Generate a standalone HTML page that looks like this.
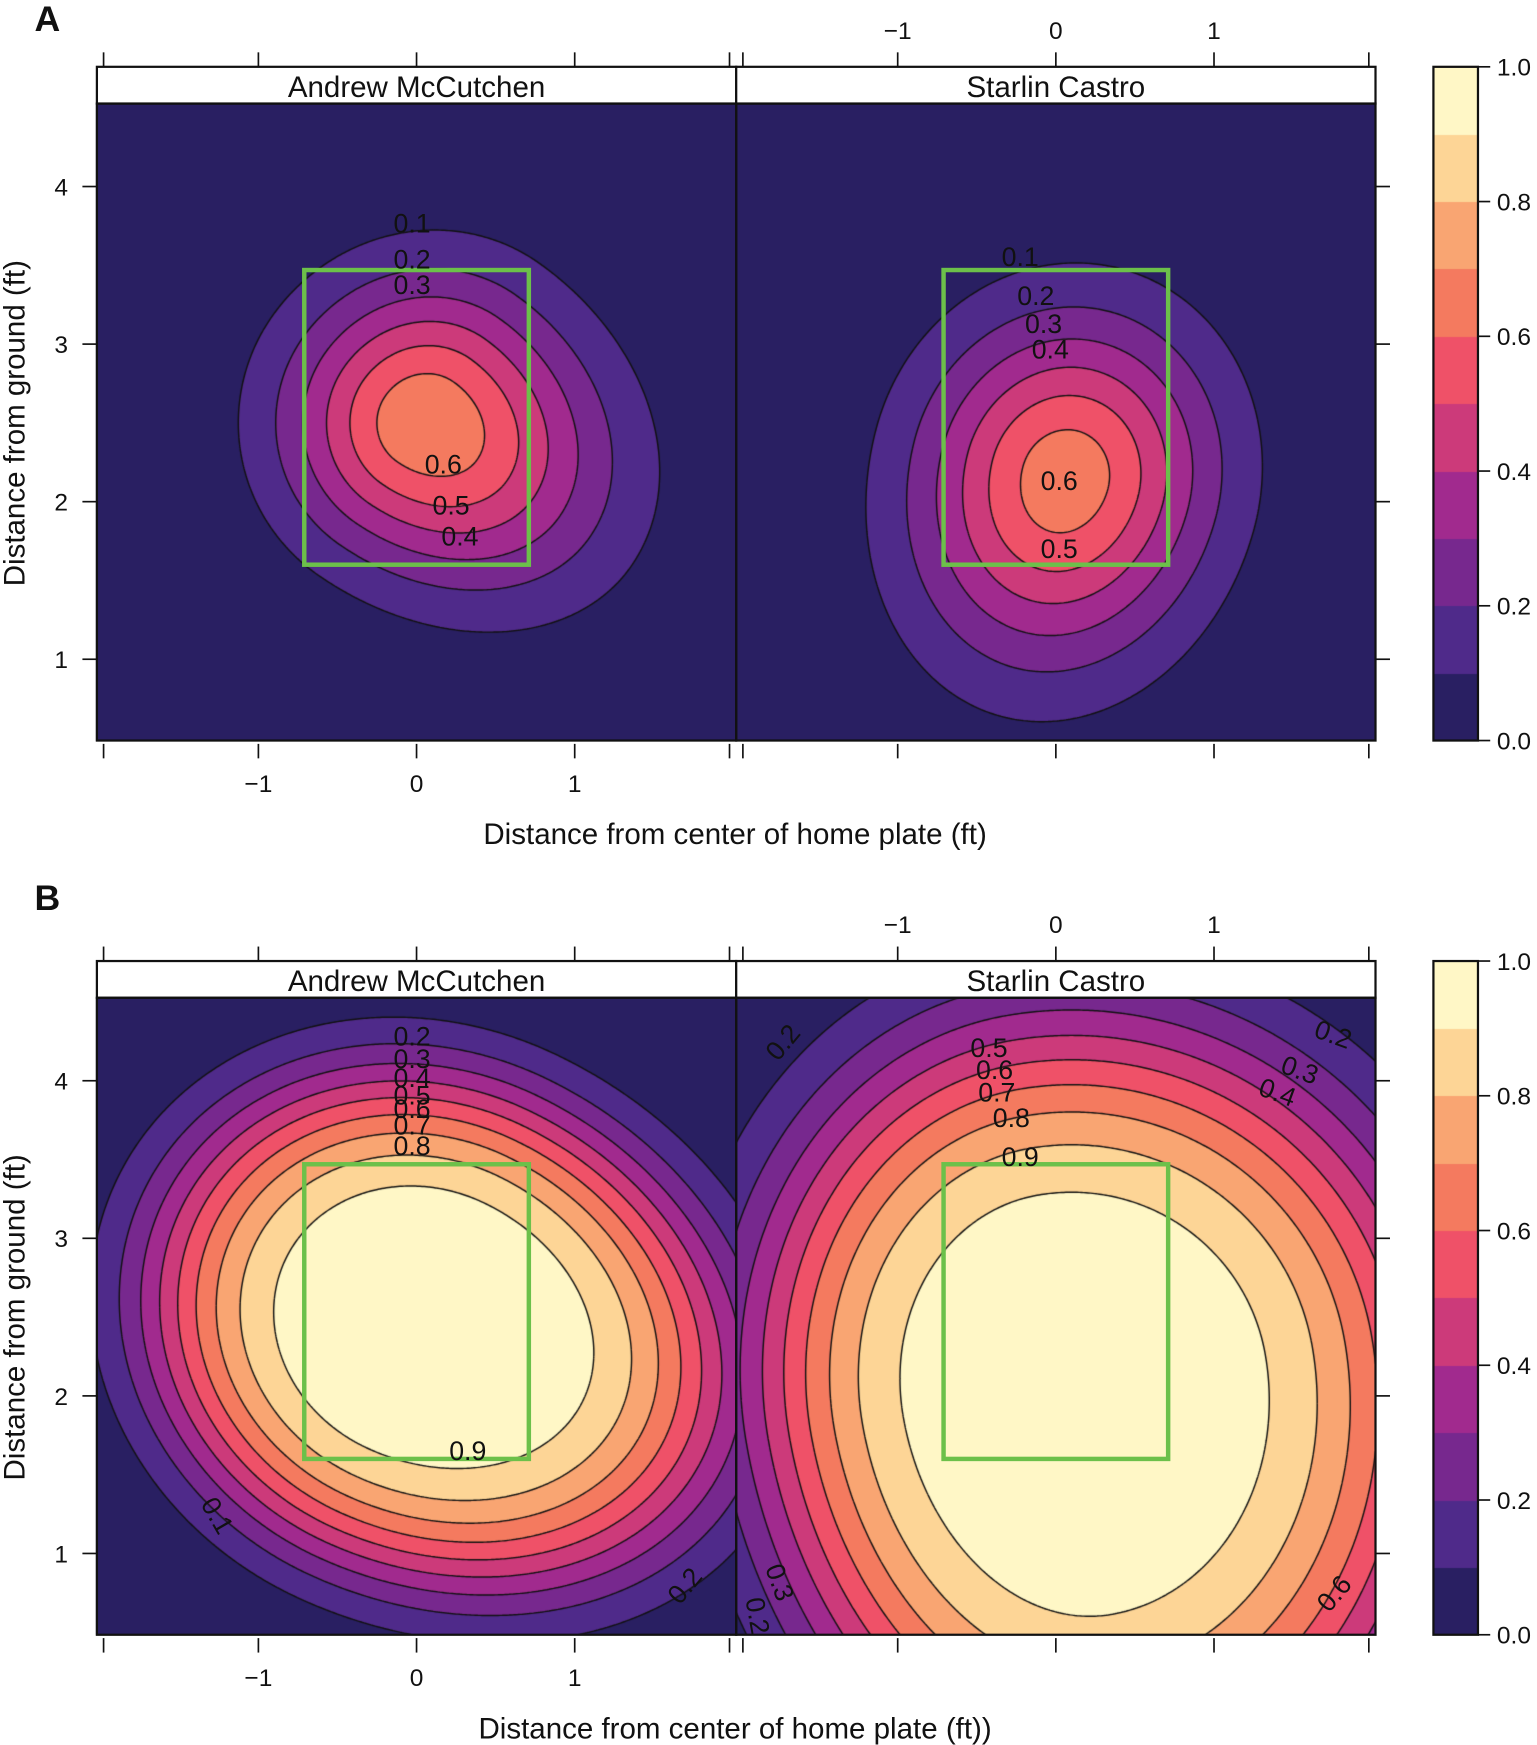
<!DOCTYPE html>
<html><head><meta charset="utf-8"><style>
html,body{margin:0;padding:0;background:#fff;}
#wrap{position:relative;width:1537px;height:1745px;overflow:hidden;}
canvas,svg{position:absolute;left:0;top:0;}
text{font-family:"Liberation Sans",Arial,sans-serif;fill:#111;}
</style></head><body>
<div id="wrap">
<canvas id="cv" width="1537" height="1745"></canvas>
<svg id="sv" width="1537" height="1745" viewBox="0 0 1380 1567" preserveAspectRatio="none"></svg>
</div>
<script>
// ---- data ----
const panelNames = ["A-McCutchen","A-Castro","B-McCutchen","B-Castro"];
const centerX = [0.05, 0.06, 0.05, 0.10];
const centerY = [2.50, 2.15, 2.45, 2.05];
const amplitude = [0.68, 0.66, 0.99, 0.98];
const spreadLeft = [0.85, 0.90, 1.75, 2.00];
const spreadRight = [1.15, 0.90, 2.00, 2.30];
const spreadDown = [0.85, 1.14, 1.55, 2.70];
const spreadUp = [0.90, 1.00, 1.55, 2.30];
const tiltDeg = [-35, -15, -25, 10];
const shapePower = [2, 2, 4, 4];
const levels = [0.1,0.2,0.3,0.4,0.5,0.6,0.7,0.8,0.9];
const binColors = ["#291f62","#4f2a8a","#77288e","#a12a8e","#cc3a7a","#ef5168","#f47a5f","#f9a572","#fdd596","#fff7c6"];
const xTicks = [-2,-1,0,1,2];
const xTickLabels = ["-1","0","1"];
const yTicks = [1,2,3,4];
const cbTicks = [0,0.2,0.4,0.6,0.8,1.0];
const zoneX = [-0.71, 0.71];
const zoneY = [1.6, 3.47];
const stripTitles = ["Andrew McCutchen","Starlin Castro"];

// ---- geometry (display coords 1380x1567) ----
const SX = 1537/1380, SY = 1745/1567;
const PXFT = 142, PYFT = 141.5;
const panelLeft = [87,661,87,661], panelRight=[661,1235,661,1235];
const origin0 = [374,948,374,948];
const yOff = [0,0,803,803];
const plotTop = 93, plotBot = 665;
function xs(i,x){return origin0[i]+x*PXFT;}
function ys(i,y){return 592-(y-1)*PYFT+yOff[i];}
function xinv(i,px){return (px-origin0[i])/PXFT;}
function yinv(i,py){return 1+(592+yOff[i]-py)/PYFT;}
function f(i,x,y){
  const a=tiltDeg[i]*Math.PI/180, dx=x-centerX[i], dy=y-centerY[i];
  const u=dx*Math.cos(a)+dy*Math.sin(a), v=-dx*Math.sin(a)+dy*Math.cos(a);
  const su=u<0?spreadLeft[i]:spreadRight[i], sv=v<0?spreadDown[i]:spreadUp[i];
  const r=Math.sqrt((u/su)**2+(v/sv)**2);
  return amplitude[i]*Math.exp(-Math.pow(r,shapePower[i]));
}
function hex(c){return [parseInt(c.slice(1,3),16),parseInt(c.slice(3,5),16),parseInt(c.slice(5,7),16)];}
const rgb=binColors.map(hex);

// ---- fills ----
const cv=document.getElementById('cv'), ctx=cv.getContext('2d');
const img=ctx.createImageData(1537,1745);
for(let i=0;i<4;i++){
  const x0=Math.floor(panelLeft[i]*SX), x1=Math.ceil(panelRight[i]*SX);
  const y0=Math.floor((plotTop+yOff[i])*SY), y1=Math.ceil((plotBot+yOff[i])*SY);
  for(let py=y0;py<y1;py++)for(let px=x0;px<x1;px++){
    const v=f(i,xinv(i,(px+0.5)/SX),yinv(i,(py+0.5)/SY));
    const b=Math.max(0,Math.min(9,Math.floor(v*10)));
    const k=(py*1537+px)*4;img.data[k]=rgb[b][0];img.data[k+1]=rgb[b][1];img.data[k+2]=rgb[b][2];img.data[k+3]=255;
  }
}
for(let c=0;c<2;c++){
  const top=60+c*803;
  for(let b=0;b<10;b++){
    const yA=Math.floor((top+605-(b+1)*60.5)*SY), yB=Math.ceil((top+605-b*60.5)*SY);
    for(let py=yA;py<yB;py++)for(let px=Math.floor(1287*SX);px<Math.ceil(1327*SX);px++){
      const k=(py*1537+px)*4;img.data[k]=rgb[b][0];img.data[k+1]=rgb[b][1];img.data[k+2]=rgb[b][2];img.data[k+3]=255;}
  }
}
ctx.putImageData(img,0,0);
// ---- contour lines (marching squares) ----
ctx.save();ctx.scale(SX,SY);ctx.strokeStyle="#111";ctx.lineWidth=1.3;
for(let i=0;i<4;i++){
  ctx.save();ctx.beginPath();ctx.rect(panelLeft[i],plotTop+yOff[i],panelRight[i]-panelLeft[i],plotBot-plotTop);ctx.clip();
  const st=2, nx=Math.ceil((panelRight[i]-panelLeft[i])/st)+1, ny=Math.ceil((plotBot-plotTop)/st)+1;
  const g=[];
  for(let r=0;r<ny;r++){g.push([]);for(let c=0;c<nx;c++){g[r].push(f(i,xinv(i,panelLeft[i]+c*st),yinv(i,plotTop+yOff[i]+r*st)));}}
  ctx.beginPath();
  for(const L of levels){
    for(let r=0;r<ny-1;r++)for(let c=0;c<nx-1;c++){
      const X=panelLeft[i]+c*st, Y=plotTop+yOff[i]+r*st;
      const v=[g[r][c],g[r][c+1],g[r+1][c+1],g[r+1][c]];
      const p=[[X,Y],[X+st,Y],[X+st,Y+st],[X,Y+st]];
      const pts=[];
      for(let e=0;e<4;e++){const a=v[e],b=v[(e+1)%4];
        if((a<L)!==(b<L)){const t=(L-a)/(b-a);pts.push([p[e][0]+t*(p[(e+1)%4][0]-p[e][0]),p[e][1]+t*(p[(e+1)%4][1]-p[e][1])]);}}
      for(let k=0;k+1<pts.length;k+=2){ctx.moveTo(pts[k][0],pts[k][1]);ctx.lineTo(pts[k+1][0],pts[k+1][1]);}
    }
  }
  ctx.stroke();ctx.restore();
}
ctx.restore();

// ---- SVG overlay ----
const NS="http://www.w3.org/2000/svg", sv=document.getElementById('sv');
function el(tag,attrs,txt){const e=document.createElementNS(NS,tag);for(const k in attrs)e.setAttribute(k,attrs[k]);if(txt!==undefined)e.textContent=txt;sv.appendChild(e);return e;}
for(let s=0;s<2;s++){
  const o=s*803;
  let t=el('text',{x:31,y:(s?817:28),'font-size':32,'font-weight':'bold'},s?"B":"A");
  
  
  for(let j=0;j<2;j++){
    const i=s*2+j, L=panelLeft[i], R=panelRight[i];
    let st=el('rect',{x:L,y:60+o,width:R-L,height:33,fill:'#fff',stroke:'#111','stroke-width':2});
    
    
    t=el('text',{x:(L+R)/2,y:87+o,'font-size':26.5,'text-anchor':'middle'},stripTitles[j]);
    
    
    let fr=el('rect',{x:L,y:plotTop+o,width:R-L,height:plotBot-plotTop,fill:'none',stroke:'#111','stroke-width':2});
    
    
    let z=el('rect',{x:xs(i,zoneX[0]),y:ys(i,zoneY[1]),width:xs(i,zoneX[1])-xs(i,zoneX[0]),height:ys(i,zoneY[0])-ys(i,zoneY[1]),fill:'none',stroke:'#6cc04a','stroke-width':4});
    
    
    xTicks.forEach(v=>{
      const x=xs(i,v)+(v===-2?3:v===2?-3:0);
      let tk=el('line',{x1:x,x2:x,y1:47+o,y2:60+o,stroke:'#111','stroke-width':1.5});
      
      
      tk=el('line',{x1:x,x2:x,y1:668+o,y2:681+o,stroke:'#111','stroke-width':1.5});
      
      
    });
    xTickLabels.forEach((lb,k)=>{
      const v=[-1,0,1][k];
      if(j===0){t=el('text',{x:xs(i,v),y:711+o,'font-size':22,'text-anchor':'middle'},lb.replace('-','\u2212'));
        
        }
      else{t=el('text',{x:xs(i,v),y:35+o,'font-size':22,'text-anchor':'middle'},lb.replace('-','\u2212'));
        
        }
    });
  }
  yTicks.forEach(v=>{
    const y=ys(s*2,v);
    let tk=el('line',{x1:74,x2:87,y1:y,y2:y,stroke:'#111','stroke-width':1.5});
    
    
    tk=el('line',{x1:1235,x2:1248,y1:y,y2:y,stroke:'#111','stroke-width':1.5});
    
    
    t=el('text',{x:55,y:y+8,'font-size':22,'text-anchor':'middle'},String(v));
    
    
  });
  t=el('text',{x:0,y:0,'font-size':26.5,'text-anchor':'middle',transform:`translate(22,${380+o}) rotate(-90)`},"Distance from ground (ft)");
  
  
  t=el('text',{x:660,y:758+o,'font-size':26.5,'text-anchor':'middle'},s?"Distance from center of home plate (ft))":"Distance from center of home plate (ft)");
  
  
  let cb=el('rect',{x:1287,y:60+o,width:40,height:605,fill:'none',stroke:'#111','stroke-width':2});
  
  
  cbTicks.forEach(v=>{
    const y=665+o-v*605;
    let tk=el('line',{x1:1327,x2:1338,y1:y,y2:y,stroke:'#111','stroke-width':1.5});
    
    
    t=el('text',{x:1344,y:y+8,'font-size':22},v.toFixed(1));
    
    
  });
}
// contour labels
const contourLabelText=["0.1","0.2","0.3","0.6","0.5","0.4","0.1","0.2","0.3","0.4","0.6","0.5",
 "0.2","0.3","0.4","0.5","0.6","0.7","0.8","0.9","0.1","0.2",
 "0.5","0.6","0.7","0.8","0.9","0.2","0.2","0.3","0.4","0.6","0.3","0.2"];
const contourLabelPos=[[370,209],[370,241],[370,264],[398,425],[405,462],[413,490],[916,239],[930,274],[937,299],[943,322],[951,440],[951,501],
 [370,939],[370,959],[370,976],[370,992],[370,1004],[370,1019],[370,1037],[420,1311],[195,1369],[615,1432],
 [888,949],[893,969],[895,989],[908,1012],[916,1047],[703,944],[1197,937],[1167,969],[1147,989],[1198,1439],[700,1429],[680,1459]];
const contourLabelRot=[0,0,0,0,0,0,0,0,0,0,0,0, 0,0,0,0,0,0,0,0,60,-50, 0,0,0,0,0,-50,20,20,20,-50,70,80];
contourLabelText.forEach((s,k)=>{
  const [x,y]=contourLabelPos[k];
  const t=el('text',{x:x,y:y,'font-size':24,'text-anchor':'middle',transform:`rotate(${contourLabelRot[k]} ${x} ${y-8})`},s);
  
  
});
</script>
</body></html>
